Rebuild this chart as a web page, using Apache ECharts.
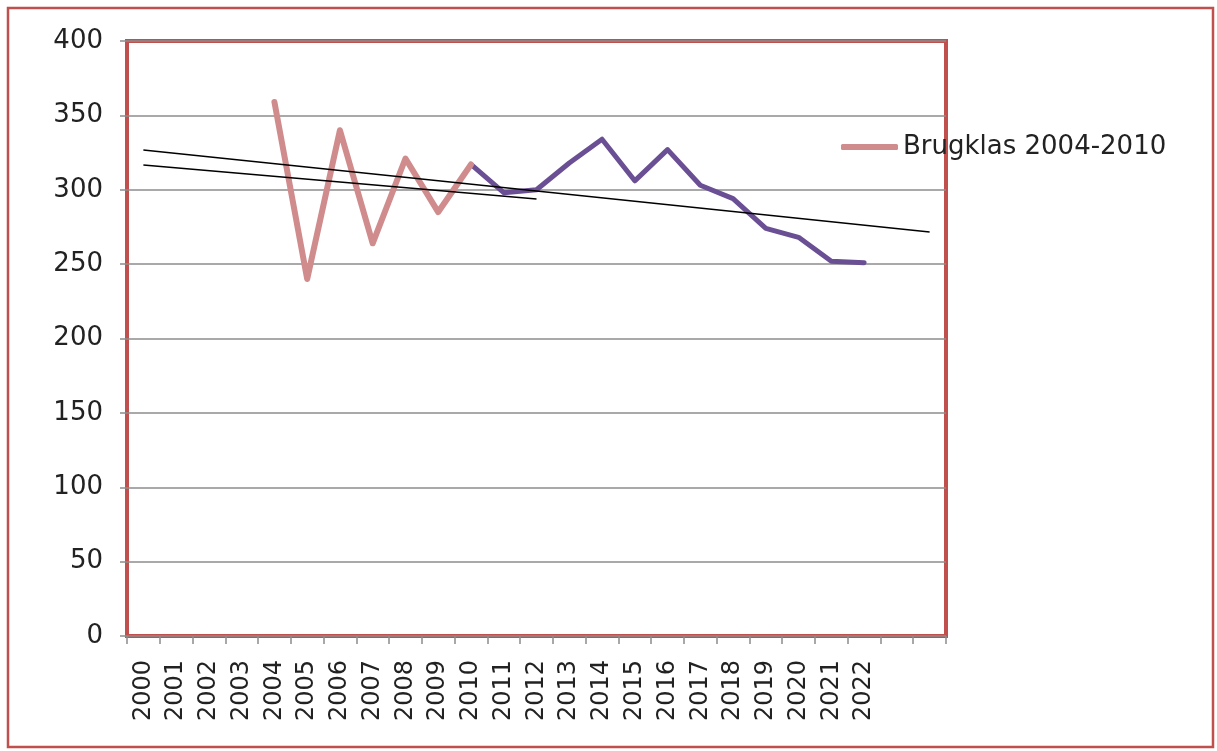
<!DOCTYPE html>
<html>
<head>
<meta charset="utf-8">
<script src="https://cdn.jsdelivr.net/npm/echarts@6/dist/echarts.min.js"></script>
<style>
  html, body { margin: 0; padding: 0; background: #fff; }
  #chart { width: 1217px; height: 751px; }
</style>
</head>
<body>
<div id="chart"></div>
<script>
// categories (last two slots are empty on the original axis)
const years = ['2000','2001','2002','2003','2004','2005','2006','2007','2008','2009','2010',
  '2011','2012','2013','2014','2015','2016','2017','2018','2019','2020','2021','2022','',''];

// Brugklas 2004-2010
const brugklas = [null,null,null,null,359,240,340,264,321,285,317];
// follow-up years 2010-2022
const later = [null,null,null,null,null,null,null,null,null,null,317,298,300,318,334,306,327,303,294,274,268,252,251];

// trend lines: [index, value] endpoints
const trendAll = [[0, 326.7], [24, 271.6]];
const trendBrug = [[0, 316.6], [12, 293.8]];

const font = 'DejaVu Sans';

let myChart = echarts.init(document.getElementById('chart'));
myChart.setOption({
    animation: false,
    backgroundColor: '#fff',
    graphic: [{
        type: 'rect',
        shape: { x: 8, y: 8, width: 1205, height: 739 },
        style: { fill: 'none', stroke: '#c0504d', lineWidth: 2.5 },
        z: -1
    }],
    legend: {
        data: ['Brugklas 2004-2010'],
        left: 836,
        top: 129,
        icon: 'roundRect',
        itemWidth: 57,
        itemHeight: 6,
        textStyle: { fontFamily: font, fontSize: 26, color: '#222' }
    },
    grid: {
        left: 127, right: 271, top: 41, bottom: 115,
        show: true,
        borderColor: '#c0504d',
        borderWidth: 4
    },
    xAxis: {
        type: 'category',
        data: years,
        boundaryGap: true,
        axisLine: { show: false },
        axisTick: { show: true, interval: 0, length: 8, lineStyle: { color: '#8c8c8c', width: 1.5 } },
        axisLabel: { interval: 0, rotate: 90, margin: 24, fontFamily: font, fontSize: 24, color: '#222' }
    },
    yAxis: {
        type: 'value',
        min: 0, max: 400, interval: 50,
        axisLine: { show: false },
        axisTick: { show: true, length: 7, lineStyle: { color: '#8c8c8c', width: 1.5 } },
        axisLabel: { margin: 24, fontFamily: font, fontSize: 26, color: '#222' },
        splitLine: { lineStyle: { color: '#8c8c8c', width: 1.5 } }
    },
    series: [
        {
            name: 'Trend all',
            type: 'line',
            data: trendAll,
            symbol: 'none',
            lineStyle: { color: '#000', width: 1.5 },
            z: 3
        },
        {
            name: 'Trend brugklas',
            type: 'line',
            data: trendBrug,
            symbol: 'none',
            lineStyle: { color: '#000', width: 1.5 },
            z: 3
        },
        {
            name: 'Later',
            type: 'line',
            data: later,
            symbol: 'none',
            itemStyle: { color: '#6b4f94' },
            lineStyle: { color: '#6b4f94', width: 5, cap: 'round', join: 'round' },
            z: 2
        },
        {
            name: 'Brugklas 2004-2010',
            type: 'line',
            data: brugklas,
            symbol: 'none',
            itemStyle: { color: '#d08c8c' },
            lineStyle: { color: '#d08c8c', width: 6, cap: 'round', join: 'round' },
            z: 2
        }
    ]
});
</script>
</body>
</html>
